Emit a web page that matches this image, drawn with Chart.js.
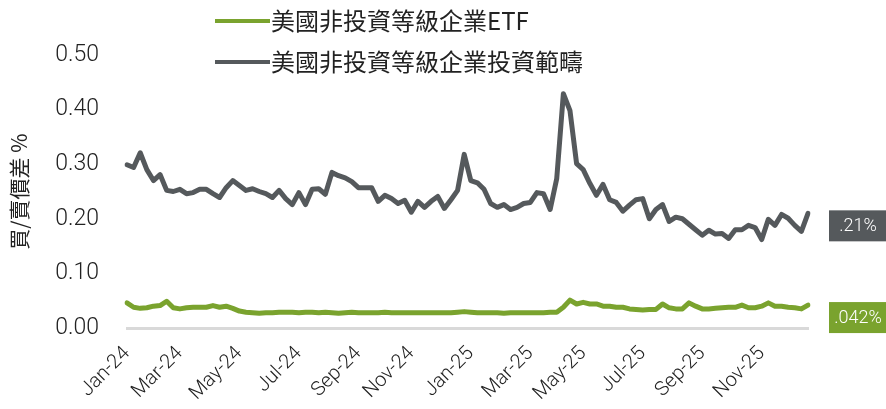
<!DOCTYPE html>
<html>
<head>
<meta charset="utf-8">
<script src="https://cdn.jsdelivr.net/npm/chart.js@4.4.1/dist/chart.umd.min.js"></script>
<style>
  html, body { margin: 0; padding: 0; background: #fff; }
  #wrap { width: 886px; height: 409px; position: relative; }
</style>
</head>
<body>
<div id="wrap"><canvas id="spreadChart"></canvas></div>
<script>
// weekly observations (Fridays), Jan 2024 - Dec 2025
const weeks = [
  '2024-01-05','2024-01-12','2024-01-19','2024-01-26','2024-02-02','2024-02-09','2024-02-16','2024-02-23',
  '2024-03-01','2024-03-08','2024-03-15','2024-03-22','2024-03-29','2024-04-05','2024-04-12','2024-04-19',
  '2024-04-26','2024-05-03','2024-05-10','2024-05-17','2024-05-24','2024-05-31','2024-06-07','2024-06-14',
  '2024-06-21','2024-06-28','2024-07-05','2024-07-12','2024-07-19','2024-07-26','2024-08-02','2024-08-09',
  '2024-08-16','2024-08-23','2024-08-30','2024-09-06','2024-09-13','2024-09-20','2024-09-27','2024-10-04',
  '2024-10-11','2024-10-18','2024-10-25','2024-11-01','2024-11-08','2024-11-15','2024-11-22','2024-11-29',
  '2024-12-06','2024-12-13','2024-12-20','2024-12-27','2025-01-03','2025-01-10','2025-01-17','2025-01-24',
  '2025-01-31','2025-02-07','2025-02-14','2025-02-21','2025-02-28','2025-03-07','2025-03-14','2025-03-21',
  '2025-03-28','2025-04-04','2025-04-11','2025-04-18','2025-04-25','2025-05-02','2025-05-09','2025-05-16',
  '2025-05-23','2025-05-30','2025-06-06','2025-06-13','2025-06-20','2025-06-27','2025-07-04','2025-07-11',
  '2025-07-18','2025-07-25','2025-08-01','2025-08-08','2025-08-15','2025-08-22','2025-08-29','2025-09-05',
  '2025-09-12','2025-09-19','2025-09-26','2025-10-03','2025-10-10','2025-10-17','2025-10-24','2025-10-31',
  '2025-11-07','2025-11-14','2025-11-21','2025-11-28','2025-12-05','2025-12-12','2025-12-19','2025-12-26'
];

const monthNames = ['Jan','Feb','Mar','Apr','May','Jun','Jul','Aug','Sep','Oct','Nov','Dec'];

// bid/ask spread, %
const etfSpread = [
  0.046, 0.038, 0.036, 0.037, 0.040, 0.041, 0.049, 0.037, 0.035, 0.037, 0.038, 0.038, 0.038, 0.041, 0.038, 0.040,
  0.036, 0.031, 0.029, 0.028, 0.027, 0.028, 0.028, 0.029, 0.029, 0.029, 0.028, 0.029, 0.029, 0.028, 0.029, 0.028,
  0.027, 0.028, 0.029, 0.028, 0.028, 0.028, 0.028, 0.029, 0.028, 0.028, 0.028, 0.028, 0.028, 0.028, 0.028, 0.028,
  0.028, 0.028, 0.029, 0.030, 0.029, 0.028, 0.028, 0.028, 0.028, 0.027, 0.028, 0.028, 0.028, 0.028, 0.028, 0.028,
  0.029, 0.029, 0.038, 0.051, 0.044, 0.047, 0.044, 0.044, 0.040, 0.040, 0.038, 0.038, 0.035, 0.034, 0.033, 0.034,
  0.034, 0.044, 0.037, 0.035, 0.035, 0.046, 0.040, 0.035, 0.035, 0.036, 0.037, 0.038, 0.038, 0.042, 0.037, 0.037,
  0.040, 0.046, 0.040, 0.040, 0.038, 0.037, 0.035, 0.042
];

const universeSpread = [
  0.299, 0.294, 0.321, 0.290, 0.270, 0.281, 0.252, 0.250, 0.254, 0.246, 0.248, 0.254, 0.254, 0.246, 0.239, 0.257,
  0.270, 0.261, 0.252, 0.255, 0.250, 0.246, 0.239, 0.252, 0.237, 0.226, 0.248, 0.226, 0.254, 0.255, 0.245, 0.285,
  0.279, 0.275, 0.268, 0.257, 0.257, 0.257, 0.232, 0.243, 0.237, 0.228, 0.234, 0.212, 0.232, 0.221, 0.232, 0.241,
  0.219, 0.235, 0.252, 0.318, 0.270, 0.266, 0.254, 0.228, 0.221, 0.226, 0.217, 0.221, 0.228, 0.230, 0.248, 0.246,
  0.217, 0.274, 0.429, 0.398, 0.301, 0.290, 0.265, 0.243, 0.263, 0.235, 0.230, 0.214, 0.225, 0.235, 0.237, 0.200,
  0.217, 0.226, 0.195, 0.203, 0.200, 0.190, 0.180, 0.170, 0.179, 0.172, 0.173, 0.164, 0.180, 0.180, 0.188, 0.184,
  0.162, 0.199, 0.188, 0.208, 0.201, 0.188, 0.177, 0.210
];

const seriesNames = ['美國非投資等級企業ETF', '美國非投資等級企業投資範疇'];
const seriesColors = ['#7aa32e', '#55595c'];
const endLabels = ['.042%', '.21%'];

const CJK = '"Noto Sans CJK TC", "Noto Sans", sans-serif';
const LIGHT = 'Roboto, "Liberation Sans", sans-serif';

function tickText(i) {
  const [y, m] = weeks[i].split('-');
  const prevMonth = i > 0 ? weeks[i - 1].split('-')[1] : null;
  const mi = parseInt(m, 10) - 1;
  if (m !== prevMonth && mi % 2 === 0) return monthNames[mi] + '-' + y.slice(2);
  return '';
}

// two-row legend drawn over the top-left of the plot
const stackedLegend = {
  id: 'stackedLegend',
  afterDraw(chart) {
    const ctx = chart.ctx;
    ctx.save();
    seriesNames.forEach((name, i) => {
      const y = 21 + i * 41;
      ctx.strokeStyle = seriesColors[i];
      ctx.lineWidth = 4;
      ctx.beginPath();
      ctx.moveTo(215, y);
      ctx.lineTo(270, y);
      ctx.stroke();
      ctx.fillStyle = '#222';
      ctx.font = '24px ' + CJK;
      ctx.textBaseline = 'middle';
      ctx.textAlign = 'left';
      ctx.fillText(name, 271, y);
    });
    ctx.restore();
  }
};

// value boxes to the right of each line's last point
const endValueBoxes = {
  id: 'endValueBoxes',
  afterDatasetsDraw(chart) {
    const ctx = chart.ctx;
    const yScale = chart.scales.y;
    ctx.save();
    chart.data.datasets.forEach((ds, i) => {
      const last = ds.data[ds.data.length - 1];
      const cy = yScale.getPixelForValue(last) + 12;
      ctx.fillStyle = seriesColors[i];
      ctx.fillRect(829, cy - 15, 57, 31);
      ctx.fillStyle = '#fff';
      ctx.font = '300 18px ' + LIGHT;
      ctx.textAlign = 'center';
      ctx.textBaseline = 'middle';
      ctx.fillText(endLabels[i], 858, cy + 1);
    });
    ctx.restore();
  }
};

new Chart(document.getElementById('spreadChart'), {
  type: 'line',
  data: {
    labels: weeks,
    datasets: seriesNames.map((name, i) => ({
      label: name,
      data: i === 0 ? etfSpread : universeSpread,
      borderColor: seriesColors[i],
      backgroundColor: seriesColors[i],
      borderWidth: 5,
      pointRadius: 0,
      tension: 0,
      borderJoinStyle: 'round',
      borderCapStyle: 'round'
    }))
  },
  options: {
    responsive: true,
    maintainAspectRatio: false,
    animation: false,
    layout: { padding: { top: 55, right: 78, left: 0, bottom: 0 } },
    plugins: {
      legend: { display: false },
      tooltip: { enabled: false }
    },
    scales: {
      x: {
        grid: { display: false },
        border: { display: true, color: '#d9d9d9', width: 3 },
        ticks: {
          autoSkip: false,
          minRotation: 45,
          maxRotation: 45,
          padding: 6,
          color: '#222',
          font: { family: LIGHT, size: 20, weight: '300' },
          callback: (v, i) => tickText(i)
        },
        afterFit: (scale) => { scale.height = 81; }
      },
      y: {
        min: 0,
        max: 0.5,
        grid: { display: false },
        border: { display: false },
        ticks: {
          stepSize: 0.1,
          padding: 20,
          color: '#222',
          font: { family: LIGHT, size: 23, weight: '300' },
          callback: (v) => v.toFixed(2)
        },
        title: {
          display: true,
          text: '買/賣價差 %',
          color: '#222',
          font: { family: CJK, size: 21 },
          padding: { top: 6, bottom: 0 }
        },
        afterFit: (scale) => { scale.width = 127; }
      }
    }
  },
  plugins: [stackedLegend, endValueBoxes]
});
</script>
</body>
</html>
